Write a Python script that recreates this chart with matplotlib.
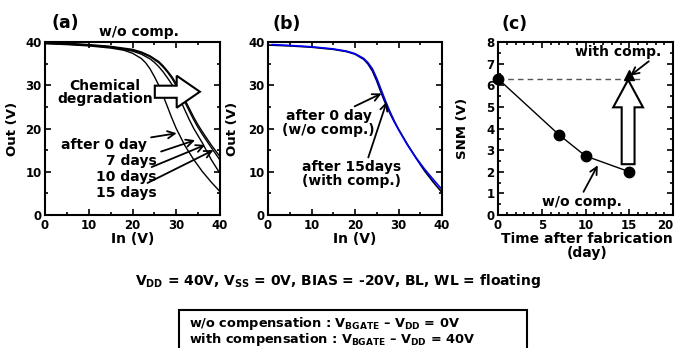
import matplotlib
matplotlib.use('Agg')
import matplotlib.pyplot as plt
import matplotlib.ticker as mticker
from matplotlib.patches import Rectangle

plt.rcParams['font.family'] = ['DejaVu Sans']
plt.rcParams['font.weight'] = 'bold'
plt.rcParams['axes.labelweight'] = 'bold'
plt.rcParams['mathtext.fontset'] = 'custom'
plt.rcParams['mathtext.rm'] = 'DejaVu Sans:bold'
plt.rcParams['mathtext.it'] = 'DejaVu Sans:bold'
plt.rcParams['mathtext.bf'] = 'DejaVu Sans:bold'

# (a) transfer curves without compensation
vin_0d = [0, 5, 10, 15, 18, 20, 22, 23, 24, 25, 26, 27, 28, 29, 30, 32, 34, 36, 38, 40]
out_0d = [39.6, 39.4, 39.1, 38.6, 38.1, 37.4, 36.2, 35.2, 33.8, 32.0, 30.0, 27.6, 25.0, 22.4,
          20.0, 16.0, 12.8, 10.0, 7.6, 5.4]
vin_7d = [0, 5, 10, 15, 20, 22, 24, 25, 26, 27, 28, 29, 30, 31, 32, 33, 34, 36, 38, 40]
out_7d = [39.7, 39.5, 39.2, 38.8, 37.9, 37.2, 36.1, 35.3, 34.3, 33.1, 31.7, 30.2, 28.4, 26.4,
          24.2, 22.0, 20.0, 16.6, 12.8, 9.6]
vin_10d = [0, 5, 10, 15, 20, 22, 24, 26, 27, 28, 29, 30, 31, 32, 33, 34, 35, 36, 38, 40]
out_10d = [39.8, 39.6, 39.3, 38.9, 38.1, 37.5, 36.6, 35.2, 34.2, 33.0, 31.6, 29.9, 28.0, 26.0,
           24.0, 22.0, 20.2, 18.6, 15.6, 12.7]
vin_15d = vin_10d
out_15d = [39.8, 39.7, 39.4, 39.0, 38.3, 37.7, 36.8, 35.5, 34.5, 33.3, 32.0, 30.4, 28.6, 26.6,
           24.6, 22.6, 20.8, 19.2, 16.2, 13.5]

# (b) 0 day w/o comp. vs 15 days with comp.
vin_b0 = [0, 5, 10, 15, 18, 20, 22, 23, 24, 25, 26, 27, 28, 29, 30, 32, 34, 36, 38, 40]
out_b0 = [39.3, 39.1, 38.8, 38.3, 37.8, 37.2, 36.0, 34.9, 33.3, 31.0, 28.3, 25.8, 23.6, 21.6,
          19.8, 16.4, 13.2, 10.2, 7.6, 5.2]
vin_b15 = [1, 5, 10, 15, 18, 20, 22, 23, 24, 25, 26, 27, 28, 29, 30, 32, 34, 36, 38, 40]
out_b15 = [39.4, 39.2, 38.9, 38.4, 37.9, 37.3, 36.2, 35.2, 33.8, 31.6, 29.0, 26.4, 24.0, 21.8,
           19.8, 16.3, 13.3, 10.6, 8.2, 5.9]

# (c) SNM vs time
days = [0, 7, 10, 15]
snm = [6.3, 3.7, 2.73, 2.0]
day_comp = [15]
snm_comp = [6.48]
day_ticks = [0, 5, 10, 15, 20]

fig = plt.figure(figsize=(6.78, 3.48), dpi=100)
W, H = 678, 348


def add_ax(x0, x1, y0=42, y1=215):
    return fig.add_axes([x0 / W, (H - y1) / H, (x1 - x0) / W, (y1 - y0) / H])


def style(ax):
    for s in ax.spines.values():
        s.set_linewidth(1.5)
    ax.tick_params(which='both', direction='in', top=True, right=True, labelsize=8.5, width=1.2)
    ax.tick_params(which='major', length=4)
    ax.tick_params(axis='x', which='major', pad=3)
    ax.tick_params(axis='y', which='major', pad=2.5)
    ax.tick_params(which='minor', length=2.5)


ax1 = add_ax(45, 220)
ax2 = add_ax(268, 442)
ax3 = add_ax(498, 673)

for ax in (ax1, ax2):
    ax.set_xlim(0, 40)
    ax.set_ylim(0, 40)
    ax.xaxis.set_major_locator(mticker.MultipleLocator(10))
    ax.xaxis.set_minor_locator(mticker.MultipleLocator(5))
    ax.yaxis.set_major_locator(mticker.MultipleLocator(10))
    ax.yaxis.set_minor_locator(mticker.MultipleLocator(5))
    style(ax)
    ax.set_xlabel('In (V)', fontsize=10)
    ax.set_ylabel('Out (V)', fontsize=9.5)
    ax.xaxis.set_label_coords(0.5, -0.1)

ax1.yaxis.set_label_coords(-0.15, 0.5)
ax2.yaxis.set_label_coords(-0.167, 0.5)

# panel (a)
for x, y in [(vin_0d, out_0d), (vin_7d, out_7d), (vin_10d, out_10d), (vin_15d, out_15d)]:
    ax1.plot(x, y, color='black', lw=1)
ax1.text(13.7, 28.3, 'Chemical\ndegradation', ha='center', va='center', fontsize=10,
         linespacing=0.95)
ax1.arrow(25.1, 28.5, 10.3, 0, width=2.8, head_width=7.4, head_length=5.3,
          length_includes_head=True, fc='white', ec='black', lw=1.5, zorder=5)
ax1.text(21.5, 40.8, 'w/o comp.', ha='center', va='bottom', fontsize=10)

labels_a = ['after 0 day', '7 days', '10 days', '15 days']
text_a = [(23.3, 16.2), (25.6, 12.4), (25.6, 8.7), (25.6, 5.0)]
tips_a = [(30.1, 18.9), (34.3, 17.3), (36.6, 16.2), (38.5, 15.0)]
for lab, (tx, ty), (px, py) in zip(labels_a, text_a, tips_a):
    ax1.annotate(lab, xy=(px, py), xytext=(tx, ty), ha='right', va='center', fontsize=10,
                 arrowprops=dict(arrowstyle='->', color='black', lw=1.3,
                                 shrinkA=1, shrinkB=0, mutation_scale=13))

# panel (b)
ax2.plot(vin_b0, out_b0, color='black', lw=1.2)
ax2.plot(vin_b15, out_b15, color='#0000ff', lw=1.2)
ax2.annotate('after 0 day\n(w/o comp.)', xy=(26.1, 28.1), xytext=(13.9, 21.3),
             ha='center', va='center', fontsize=10, linespacing=0.95,
             arrowprops=dict(arrowstyle='->', color='black', lw=1.3, shrinkA=0, shrinkB=0,
                             mutation_scale=13, relpos=(0.72, 1.0)))
ax2.annotate('after 15days\n(with comp.)', xy=(27.3, 26.2), xytext=(19.2, 9.5),
             ha='center', va='center', fontsize=10, linespacing=0.95,
             arrowprops=dict(arrowstyle='->', color='black', lw=1.3, shrinkA=0, shrinkB=0,
                             mutation_scale=13, relpos=(0.66, 1.0)))

# panel (c)
ax3.set_xlim(0, 20)
ax3.set_ylim(0, 8)
ax3.set_xticks(day_ticks)
ax3.xaxis.set_minor_locator(mticker.MultipleLocator(1))
ax3.yaxis.set_major_locator(mticker.MultipleLocator(1))
ax3.yaxis.set_minor_locator(mticker.MultipleLocator(0.5))
style(ax3)
ax3.get_xticklabels()[-1].set_horizontalalignment('right')
ax3.plot(days, snm, color='black', lw=1, marker='o', ms=7.5, clip_on=False, zorder=4)
ax3.plot(day_comp, snm_comp, color='black', marker='^', ms=7.5, ls='none', zorder=6)
ax3.plot([0, 16.5], [snm[0], snm[0]], color='#555555', ls='--', lw=1, dashes=(4, 3))
ax3.arrow(14.87, 2.35, 0, 3.9, width=1.47, head_width=3.4, head_length=1.27,
          length_includes_head=True, fc='white', ec='black', lw=1.5, zorder=5)
ax3.annotate('with comp.', xy=(15.1, 6.44), xytext=(13.7, 7.56), ha='center', va='center',
             fontsize=10,
             arrowprops=dict(arrowstyle='->', color='black', lw=1.3, shrinkA=0, shrinkB=0,
                             mutation_scale=13, relpos=(0.9, 0.0)))
ax3.annotate('w/o comp.', xy=(11.4, 2.3), xytext=(9.6, 0.62), ha='center', va='center',
             fontsize=10,
             arrowprops=dict(arrowstyle='->', color='black', lw=1.3, shrinkA=0, shrinkB=0,
                             mutation_scale=13, relpos=(0.5, 1.0)))
ax3.set_ylabel('SNM (V)', fontsize=9.5)
ax3.yaxis.set_label_coords(-0.166, 0.5)
ax3.set_xlabel('Time after fabrication\n(day)', fontsize=10, linespacing=0.95)
ax3.xaxis.set_label_coords(0.51, -0.1)

# panel letters
fig.text(65 / W, (H - 23) / H, '(a)', ha='center', va='center', fontsize=12.5)
fig.text(287 / W, (H - 24) / H, '(b)', ha='center', va='center', fontsize=12.5)
fig.text(515 / W, (H - 24) / H, '(c)', ha='center', va='center', fontsize=12.5)

# bottom conditions
fig.text(338 / W, (H - 281) / H,
         r'$V_{DD}$ = 40V, $V_{SS}$ = 0V, BIAS = -20V, BL, WL = floating',
         ha='center', va='center', fontsize=10)
fig.patches.append(Rectangle((179 / W, -0.05), (527 - 179) / W, (H - 310) / H + 0.05,
                             transform=fig.transFigure, fill=False, ec='black', lw=1.5))
fig.text(189 / W, (H - 323.5) / H, r'w/o compensation : $V_{BGATE}$ – $V_{DD}$ = 0V',
         ha='left', va='center', fontsize=9.3)
fig.text(189 / W, (H - 339.5) / H, r'with compensation : $V_{BGATE}$ – $V_{DD}$ = 40V',
         ha='left', va='center', fontsize=9.3)

fig.savefig('out.png', dpi=100)
